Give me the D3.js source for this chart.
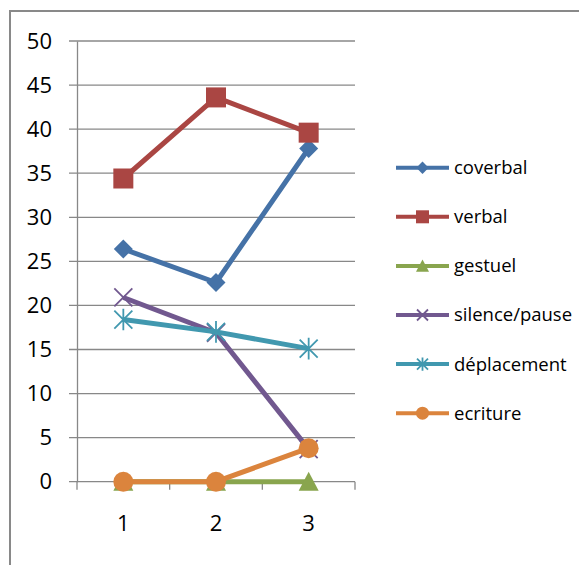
<!DOCTYPE html>
<html><head><meta charset="utf-8">
<script src="https://cdn.jsdelivr.net/npm/d3@7"></script>
<style>body{margin:0;background:#fff}svg{display:block}text{font-family:"Open Sans",sans-serif;fill:#000}</style>
</head><body><svg id="c" width="579" height="565"></svg>
<script>
const categories = ["1","2","3"];
const seriesNames = ["coverbal","verbal","gestuel","silence/pause","déplacement","ecriture"];
const coverbal = [26.4, 22.6, 37.8];
const verbal = [34.4, 43.6, 39.6];
const gestuel = [0, 0, 0];
const silencePause = [20.9, 16.9, 3.7];
const deplacement = [18.4, 17.0, 15.1];
const ecriture = [0, 0, 3.8];
const yTicks = [0,5,10,15,20,25,30,35,40,45,50];
const colors = ["#4572A7","#AA4643","#89A54E","#71588F","#4198AF","#DB843D"];
const markers = ["diamond","square","triangle","x","star","circle"];
const values = [coverbal, verbal, gestuel, silencePause, deplacement, ecriture];

const svg = d3.select("#c");
// border (left + top visible)
svg.append("path").attr("d","M10,565 V11 H579").attr("fill","none").attr("stroke","#898989").attr("stroke-width",2);

const x = d3.scaleBand().domain(categories).range([77,355]);
const y = d3.scaleLinear().domain([0,50]).range([481.7,41]);

// gridlines
svg.append("g").selectAll("line").data(yTicks).join("line")
  .attr("x1",69).attr("x2",355).attr("y1",d=>y(d)).attr("y2",d=>y(d))
  .attr("stroke","#888").attr("stroke-width",1.3);
// y axis
const ya = svg.append("g").attr("transform","translate(77,0)").call(d3.axisLeft(y).tickValues(yTicks).tickSize(0).tickPadding(25));
ya.select(".domain").attr("stroke","#888").attr("stroke-width",1.3);
ya.selectAll("text").attr("font-size",22).attr("font-family","'Open Sans',sans-serif").attr("fill","#000");
// x axis
const xa = svg.append("g").attr("transform",`translate(0,${y(0)})`).call(d3.axisBottom(x).tickSize(0).tickPadding(34));
xa.select(".domain").remove();
xa.selectAll("text").attr("font-size",22).attr("font-family","'Open Sans',sans-serif").attr("fill","#000");
const edges = [0,1,2,3].map(i=>77+i*x.step());
svg.append("g").selectAll("line").data(edges).join("line")
  .attr("x1",d=>d).attr("x2",d=>d).attr("y1",y(0)).attr("y2",y(0)+8).attr("stroke","#888").attr("stroke-width",1.3);

function drawMarker(g, type, cx, cy, color, s){
  if(type==="diamond") g.append("path").attr("d",`M${cx},${cy-s*0.95}L${cx+s*0.95},${cy}L${cx},${cy+s*0.95}L${cx-s*0.95},${cy}Z`).attr("fill",color);
  else if(type==="square") g.append("rect").attr("x",cx-s).attr("y",cy-s).attr("width",2*s).attr("height",2*s).attr("fill",color);
  else if(type==="triangle") g.append("path").attr("d",`M${cx},${cy-s*1.0}L${cx+s},${cy+s*0.9}L${cx-s},${cy+s*0.9}Z`).attr("fill",color);
  else if(type==="circle") g.append("circle").attr("cx",cx).attr("cy",cy).attr("r",s).attr("fill",color);
  else if(type==="x") g.append("path").attr("d",`M${cx-s},${cy-s}L${cx+s},${cy+s}M${cx+s},${cy-s}L${cx-s},${cy+s}`).attr("stroke",color).attr("stroke-width",1.8);
  else if(type==="star") g.append("path").attr("d",`M${cx-s},${cy-s}L${cx+s},${cy+s}M${cx+s},${cy-s}L${cx-s},${cy+s}M${cx},${cy-s*1.2}L${cx},${cy+s*1.2}`).attr("stroke",color).attr("stroke-width",1.8);
}

const line = d3.line().x((d,i)=>x(categories[i])+x.bandwidth()/2).y(d=>y(d));
const order = [2,0,1,3,4,5];
order.forEach(k=>{
  const g = svg.append("g");
  g.append("path").datum(values[k]).attr("d",line).attr("fill","none").attr("stroke",colors[k]).attr("stroke-width",5).attr("stroke-linejoin","round");
  values[k].forEach((v,i)=>drawMarker(g, markers[k], x(categories[i])+x.bandwidth()/2, y(v), colors[k], markers[k]==="x"||markers[k]==="star"?9:10));
});

// legend
const lg = svg.append("g");
seriesNames.forEach((n,k)=>{
  const yy = 167.7 + k*49.1;
  lg.append("line").attr("x1",396).attr("x2",449).attr("y1",yy).attr("y2",yy).attr("stroke",colors[k]).attr("stroke-width",4);
  drawMarker(lg, markers[k], 422.5, yy, colors[k], markers[k]==="x"||markers[k]==="star"?5.5:6.5);
  lg.append("text").attr("x",454).attr("y",yy).attr("dy","0.35em").attr("font-size",18.5).text(n);
});
</script></body></html>
